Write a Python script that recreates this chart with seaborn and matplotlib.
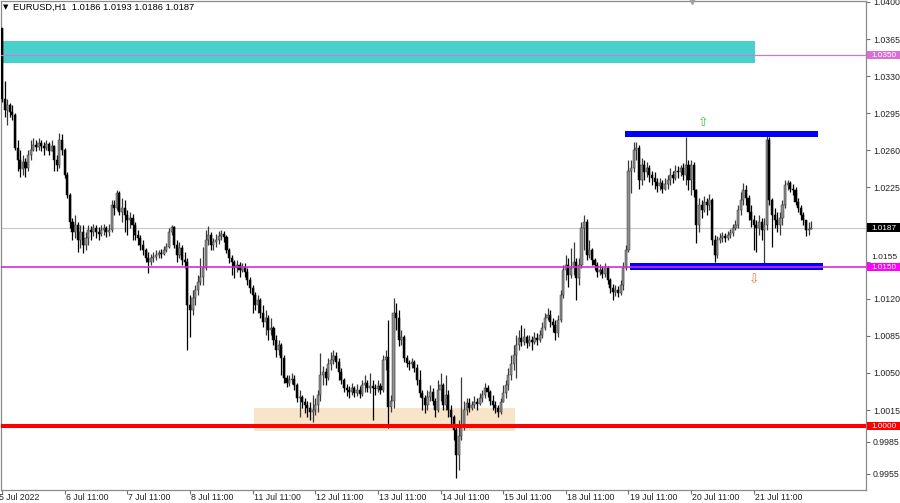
import numpy as np
import matplotlib
matplotlib.use("Agg")
import matplotlib.pyplot as plt
import matplotlib.transforms as mtransforms
from matplotlib.patches import Rectangle
import seaborn as sns

# -------------------------
# Data (EURUSD H1)
# -------------------------
header_text = "EURUSD,H1  1.0186 1.0193 1.0186 1.0187"

first_open = 1.0375

closes = [
    # 5 Jul
    1.0308, 1.0298, 1.0303, 1.0296, 1.0293, 1.0262, 1.0251, 1.0242, 1.0249, 1.0243, 1.0256, 1.0260,
    1.0265, 1.0263, 1.0267, 1.0264, 1.0262, 1.0266, 1.0259, 1.0264, 1.0251, 1.0246, 1.0270, 1.0260,
    # 6 Jul
    1.0237, 1.0218, 1.0192, 1.0183, 1.0190, 1.0175, 1.0183, 1.0171, 1.0177, 1.0185, 1.0183, 1.0187,
    1.0183, 1.0181, 1.0185, 1.0187, 1.0183, 1.0185, 1.0208, 1.0206, 1.0220, 1.0202, 1.0206, 1.0199,
    # 7 Jul
    1.0194, 1.0196, 1.0190, 1.0180, 1.0177, 1.0171, 1.0166, 1.0158, 1.0155, 1.0158, 1.0159, 1.0161,
    1.0163, 1.0162, 1.0166, 1.0169, 1.0183, 1.0188, 1.0171, 1.0161, 1.0168, 1.0157, 1.0155, 1.0114,
    # 8 Jul
    1.0109, 1.0121, 1.0128, 1.0136, 1.0141, 1.0149, 1.0175, 1.0180, 1.0171, 1.0174, 1.0175, 1.0179,
    1.0181, 1.0178, 1.0166, 1.0158, 1.0155, 1.0149, 1.0152, 1.0147, 1.0150, 1.0145, 1.0138, 1.0130,
    # 11 Jul
    1.0124, 1.0114, 1.0119, 1.0107, 1.0098, 1.0102, 1.0091, 1.0092, 1.0081, 1.0072, 1.0076, 1.0064,
    1.0045, 1.0041, 1.0043, 1.0044, 1.0039, 1.0026, 1.0027, 1.0023, 1.0020, 1.0017, 1.0013, 1.0015,
    # 12 Jul
    1.0020, 1.0029, 1.0048, 1.0051, 1.0045, 1.0058, 1.0062, 1.0066, 1.0060, 1.0051, 1.0043, 1.0036,
    1.0034, 1.0032, 1.0036, 1.0031, 1.0034, 1.0030, 1.0039, 1.0041, 1.0036, 1.0038, 1.0036, 1.0035,
    # 13 Jul
    1.0038, 1.0034, 1.0062, 1.0065, 1.0018, 1.0024, 1.0107, 1.0102, 1.0081, 1.0084, 1.0064, 1.0059,
    1.0058, 1.0060, 1.0055, 1.0043, 1.0031, 1.0026, 1.0020, 1.0027, 1.0032, 1.0024, 1.0015, 1.0034,
    # 14 Jul
    1.0039, 1.0020, 1.0029, 1.0015, 1.0008, 0.9996, 0.9973, 0.9991, 1.0001, 1.0015, 1.0022, 1.0017,
    1.0020, 1.0023, 1.0021, 1.0026, 1.0029, 1.0036, 1.0032, 1.0024, 1.0020, 1.0017, 1.0013, 1.0023,
    # 15 Jul
    1.0031, 1.0039, 1.0048, 1.0058, 1.0067, 1.0076, 1.0083, 1.0079, 1.0084, 1.0078, 1.0081, 1.0079,
    1.0083, 1.0081, 1.0086, 1.0092, 1.0102, 1.0105, 1.0098, 1.0095, 1.0088, 1.0100, 1.0124, 1.0147,
    # 18 Jul
    1.0152, 1.0142, 1.0149, 1.0155, 1.0140, 1.0152, 1.0187, 1.0192, 1.0161, 1.0166, 1.0157, 1.0152,
    1.0145, 1.0147, 1.0143, 1.0149, 1.0138, 1.0130, 1.0126, 1.0128, 1.0125, 1.0133, 1.0149, 1.0166,
    # 19 Jul
    1.0241, 1.0243, 1.0260, 1.0262, 1.0232, 1.0246, 1.0240, 1.0243, 1.0237, 1.0234, 1.0230, 1.0226,
    1.0229, 1.0224, 1.0228, 1.0232, 1.0237, 1.0234, 1.0241, 1.0240, 1.0243, 1.0237, 1.0246, 1.0232,
    # 20 Jul
    1.0246, 1.0223, 1.0190, 1.0208, 1.0204, 1.0211, 1.0208, 1.0213, 1.0175, 1.0161, 1.0175, 1.0177,
    1.0179, 1.0177, 1.0180, 1.0182, 1.0187, 1.0190, 1.0204, 1.0213, 1.0223, 1.0215, 1.0202, 1.0194,
    # 21-22 Jul
    1.0190, 1.0187, 1.0192, 1.0185, 1.0190, 1.0270, 1.0213, 1.0199, 1.0194, 1.0190, 1.0196, 1.0208,
    1.0227, 1.0229, 1.0224, 1.0223, 1.0211, 1.0206, 1.0199, 1.0194, 1.0185, 1.0186, 1.0187,
]

highs = [
    1.0375, 1.0325, 1.0308, 1.0305, 1.0303, 1.0295, 1.0270, 1.0260, 1.0256, 1.0253, 1.0260, 1.0270,
    1.0272, 1.0270, 1.0272, 1.0270, 1.0268, 1.0270, 1.0268, 1.0270, 1.0265, 1.0256, 1.0276, 1.0275,
    1.0262, 1.0240, 1.0220, 1.0196, 1.0199, 1.0192, 1.0190, 1.0190, 1.0183, 1.0190, 1.0189, 1.0191,
    1.0190, 1.0188, 1.0190, 1.0191, 1.0189, 1.0191, 1.0213, 1.0213, 1.0223, 1.0222, 1.0215, 1.0213,
    1.0204, 1.0202, 1.0200, 1.0192, 1.0185, 1.0180, 1.0175, 1.0168, 1.0164, 1.0162, 1.0164, 1.0166,
    1.0166, 1.0167, 1.0170, 1.0173, 1.0187, 1.0190, 1.0189, 1.0175, 1.0174, 1.0171, 1.0164, 1.0158,
    1.0124, 1.0128, 1.0133, 1.0142, 1.0158, 1.0169, 1.0185, 1.0189, 1.0183, 1.0177, 1.0181, 1.0184,
    1.0185, 1.0184, 1.0180, 1.0168, 1.0161, 1.0157, 1.0157, 1.0155, 1.0154, 1.0154, 1.0149, 1.0141,
    1.0133, 1.0126, 1.0124, 1.0121, 1.0114, 1.0109, 1.0105, 1.0102, 1.0094, 1.0086, 1.0081, 1.0078,
    1.0067, 1.0048, 1.0048, 1.0050, 1.0048, 1.0041, 1.0034, 1.0029, 1.0026, 1.0024, 1.0023, 1.0029,
    1.0026, 1.0034, 1.0069, 1.0057, 1.0055, 1.0064, 1.0070, 1.0072, 1.0070, 1.0064, 1.0055, 1.0045,
    1.0040, 1.0038, 1.0041, 1.0038, 1.0040, 1.0038, 1.0043, 1.0048, 1.0043, 1.0050, 1.0043, 1.0040,
    1.0043, 1.0041, 1.0067, 1.0072, 1.0100, 1.0029, 1.0121, 1.0116, 1.0109, 1.0091, 1.0086, 1.0067,
    1.0062, 1.0064, 1.0062, 1.0058, 1.0053, 1.0034, 1.0029, 1.0034, 1.0039, 1.0036, 1.0026, 1.0043,
    1.0050, 1.0041, 1.0048, 1.0034, 1.0020, 1.0010, 1.0001, 1.0006, 1.0046, 1.0024, 1.0026, 1.0026,
    1.0024, 1.0028, 1.0026, 1.0031, 1.0034, 1.0041, 1.0039, 1.0034, 1.0029, 1.0024, 1.0020, 1.0026,
    1.0039, 1.0043, 1.0055, 1.0067, 1.0076, 1.0086, 1.0091, 1.0095, 1.0092, 1.0086, 1.0086, 1.0085,
    1.0089, 1.0088, 1.0091, 1.0098, 1.0107, 1.0111, 1.0109, 1.0102, 1.0100, 1.0105, 1.0128, 1.0152,
    1.0161, 1.0158, 1.0168, 1.0174, 1.0158, 1.0158, 1.0192, 1.0199, 1.0195, 1.0175, 1.0168, 1.0158,
    1.0155, 1.0153, 1.0151, 1.0154, 1.0151, 1.0140, 1.0134, 1.0133, 1.0132, 1.0138, 1.0155, 1.0171,
    1.0251, 1.0251, 1.0268, 1.0268, 1.0265, 1.0253, 1.0251, 1.0249, 1.0246, 1.0241, 1.0240, 1.0234,
    1.0234, 1.0232, 1.0234, 1.0237, 1.0243, 1.0241, 1.0246, 1.0245, 1.0246, 1.0248, 1.0273, 1.0251,
    1.0251, 1.0249, 1.0224, 1.0215, 1.0213, 1.0217, 1.0215, 1.0219, 1.0215, 1.0180, 1.0179, 1.0182,
    1.0183, 1.0182, 1.0184, 1.0186, 1.0191, 1.0194, 1.0208, 1.0221, 1.0229, 1.0227, 1.0218, 1.0208,
    1.0199, 1.0194, 1.0199, 1.0196, 1.0196, 1.0277, 1.0273, 1.0215, 1.0206, 1.0202, 1.0202, 1.0213,
    1.0232, 1.0232, 1.0231, 1.0228, 1.0225, 1.0215, 1.0208, 1.0202, 1.0194, 1.0192, 1.0193,
]

lows = [
    1.0306, 1.0291, 1.0284, 1.0291, 1.0289, 1.0260, 1.0241, 1.0235, 1.0237, 1.0235, 1.0241, 1.0251,
    1.0259, 1.0259, 1.0260, 1.0259, 1.0256, 1.0260, 1.0256, 1.0259, 1.0241, 1.0241, 1.0243, 1.0256,
    1.0234, 1.0215, 1.0187, 1.0175, 1.0177, 1.0164, 1.0168, 1.0163, 1.0166, 1.0171, 1.0175, 1.0179,
    1.0177, 1.0175, 1.0179, 1.0180, 1.0178, 1.0179, 1.0183, 1.0199, 1.0204, 1.0199, 1.0192, 1.0183,
    1.0180, 1.0187, 1.0175, 1.0175, 1.0171, 1.0166, 1.0161, 1.0155, 1.0144, 1.0152, 1.0155, 1.0157,
    1.0158, 1.0158, 1.0161, 1.0164, 1.0168, 1.0180, 1.0168, 1.0155, 1.0158, 1.0152, 1.0149, 1.0072,
    1.0084, 1.0105, 1.0114, 1.0124, 1.0133, 1.0133, 1.0147, 1.0171, 1.0166, 1.0166, 1.0169, 1.0172,
    1.0175, 1.0174, 1.0163, 1.0154, 1.0142, 1.0140, 1.0145, 1.0141, 1.0145, 1.0141, 1.0133, 1.0125,
    1.0107, 1.0109, 1.0107, 1.0102, 1.0093, 1.0086, 1.0081, 1.0086, 1.0076, 1.0065, 1.0067, 1.0048,
    1.0041, 1.0037, 1.0038, 1.0040, 1.0034, 1.0023, 1.0008, 1.0017, 1.0012, 1.0008, 1.0006, 1.0004,
    1.0010, 1.0013, 1.0024, 1.0039, 1.0039, 1.0043, 1.0053, 1.0058, 1.0055, 1.0043, 1.0040, 1.0032,
    1.0028, 1.0026, 1.0029, 1.0027, 1.0028, 1.0026, 1.0028, 1.0032, 1.0032, 1.0031, 1.0006, 1.0029,
    1.0032, 1.0030, 1.0032, 1.0053, 0.9998, 1.0013, 1.0017, 1.0091, 1.0075, 1.0076, 1.0060, 1.0056,
    1.0053, 1.0055, 1.0051, 1.0039, 1.0027, 1.0015, 1.0012, 1.0015, 1.0024, 1.0020, 1.0008, 1.0013,
    1.0024, 1.0015, 1.0015, 1.0008, 1.0001, 0.9987, 0.9951, 0.9958, 0.9987, 0.9996, 1.0010, 1.0013,
    1.0015, 1.0017, 1.0015, 1.0020, 1.0023, 1.0026, 1.0027, 1.0020, 1.0015, 1.0012, 1.0008, 1.0011,
    1.0023, 1.0026, 1.0034, 1.0043, 1.0053, 1.0045, 1.0072, 1.0075, 1.0076, 1.0074, 1.0075, 1.0072,
    1.0077, 1.0076, 1.0079, 1.0083, 1.0091, 1.0100, 1.0093, 1.0089, 1.0081, 1.0084, 1.0098, 1.0121,
    1.0138, 1.0131, 1.0140, 1.0142, 1.0119, 1.0133, 1.0149, 1.0166, 1.0157, 1.0158, 1.0152, 1.0147,
    1.0141, 1.0142, 1.0140, 1.0141, 1.0134, 1.0125, 1.0119, 1.0123, 1.0122, 1.0124, 1.0128, 1.0147,
    1.0164, 1.0220, 1.0240, 1.0251, 1.0224, 1.0227, 1.0232, 1.0235, 1.0230, 1.0227, 1.0224, 1.0221,
    1.0223, 1.0220, 1.0223, 1.0224, 1.0227, 1.0229, 1.0232, 1.0234, 1.0236, 1.0232, 1.0227, 1.0223,
    1.0218, 1.0216, 1.0173, 1.0183, 1.0196, 1.0202, 1.0199, 1.0204, 1.0171, 1.0155, 1.0158, 1.0173,
    1.0174, 1.0174, 1.0175, 1.0177, 1.0179, 1.0185, 1.0187, 1.0199, 1.0208, 1.0208, 1.0194, 1.0188,
    1.0166, 1.0164, 1.0180, 1.0175, 1.0152, 1.0185, 1.0208, 1.0169, 1.0187, 1.0183, 1.0180, 1.0190,
    1.0206, 1.0223, 1.0221, 1.0218, 1.0208, 1.0202, 1.0194, 1.0190, 1.0179, 1.0180, 1.0186,
]

date_labels = ["5 Jul 2022", "6 Jul 11:00", "7 Jul 11:00", "8 Jul 11:00", "11 Jul 11:00",
               "12 Jul 11:00", "13 Jul 11:00", "14 Jul 11:00", "15 Jul 11:00", "18 Jul 11:00",
               "19 Jul 11:00", "20 Jul 11:00", "21 Jul 11:00"]
date_bars = [0, 24, 48, 72, 96, 120, 144, 168, 192, 216, 240, 264, 288]

price_ticks = [1.0400, 1.0365, 1.0330, 1.0295, 1.0260, 1.0225, 1.0190, 1.0155,
               1.0120, 1.0085, 1.0050, 1.0015, 0.9985, 0.9955]
# 1.0190 sits under the bid label on the scale, so its text is not shown
hidden_ticks = [1.0190]
# 1.0155 is squeezed against the 1.0150 label, its text is lifted a little
lifted_ticks = [1.0155]

level_upper = 1.0350
level_range = 1.0150
level_parity = 1.0000
last_price = 1.0187

# zones: first bar, last bar, low price, high price
zone_supply = (-0.4, 288.5, 1.03425, 1.03632)
zone_base = (96.6, 196.6, 0.99953, 1.00170)
range_top = (238.7, 312.6, 1.02722, 1.02778)
range_bottom = (240.6, 314.6, 1.01472, 1.01538)

arrow_up = (268.6, 1.0286)
arrow_down = (288.1, 1.0138)

# -------------------------
# Style
# -------------------------
sns.set_theme(style="white")
plt.rcParams["font.family"] = ["Liberation Sans", "DejaVu Sans"]

fig = plt.figure(figsize=(9, 5.03), dpi=100)
fig.patch.set_facecolor("white")
ax = fig.add_axes([1 / 900, 13 / 503, 865 / 900, 489 / 503])
ax.set_facecolor("white")

ax.set_xlim(-0.38, 331.0)
ax.set_ylim(0.99396, 1.04009)

# zones (behind candles)
for x0, x1, p0, p1, col in [(*zone_supply, "#48d1cc"), (*zone_base, "#f8e4c8")]:
    ax.add_patch(Rectangle((x0, p0), x1 - x0, p1 - p0, facecolor=col, edgecolor="none", zorder=1))

# current price line
ax.axhline(last_price, color="#c8c8c8", lw=0.8, zorder=1.5)

# candles
c = np.array(closes)
o = np.concatenate([[first_open], c[:-1]])
h = np.maximum(np.array(highs), np.maximum(o, c))
l = np.minimum(np.array(lows), np.minimum(o, c))
idx = np.arange(len(c))
up = c >= o

ax.vlines(idx[up], l[up], h[up], color="#3a3a3a", lw=0.9, zorder=3)
ax.vlines(idx[~up], l[~up], h[~up], color="#000000", lw=0.9, zorder=3)
body_bottom = np.minimum(o, c)
body_height = np.maximum(np.abs(c - o), 0.00008)
ax.bar(idx[up], body_height[up], bottom=body_bottom[up], width=0.8,
       color="#8e8e8e", edgecolor="#333333", linewidth=0.35, zorder=4)
ax.bar(idx[~up], body_height[~up], bottom=body_bottom[~up], width=0.8,
       color="#000000", edgecolor="#000000", linewidth=0.35, zorder=4)

# range rectangles
for x0, x1, p0, p1 in [range_top, range_bottom]:
    ax.add_patch(Rectangle((x0, p0), x1 - x0, p1 - p0, facecolor="#0000ff", edgecolor="none", zorder=3.5))

# horizontal levels
ax.axhline(level_upper, color="#c47ad8", lw=0.9, zorder=5)
ax.axhline(level_range, color="#d42cd4", lw=1.4, alpha=0.85, zorder=5)
ax.axhline(level_parity, color="#ff0000", lw=2.9, zorder=5)

# arrows
ax.text(*arrow_up, "\u21e7", color="#3cc43c", fontsize=9, ha="center", va="center",
        family=["DejaVu Sans"], zorder=6)
ax.text(*arrow_down, "\u21e9", color="#f07840", fontsize=9, ha="center", va="center",
        family=["DejaVu Sans"], zorder=6)

# axes frame
for s in ax.spines.values():
    s.set_color("#8a8a8a")
    s.set_linewidth(0.9)

# price scale on the right
yblend = mtransforms.blended_transform_factory(ax.transAxes, ax.transData)
ax.yaxis.tick_right()
ax.set_yticks(price_ticks)
ax.set_yticklabels(["" if (p in hidden_ticks or p in lifted_ticks) else f"{p:.4f}"
                    for p in price_ticks])
ax.tick_params(axis="y", which="both", direction="out", length=3, width=0.8,
               color="#707070", pad=2, labelsize=6.3, labelcolor="#222222", right=True, left=False)
for p in lifted_ticks:
    ax.text(1.0058, p + 0.00036, f"{p:.4f}", transform=yblend, ha="left", va="center",
            fontsize=6.1, color="#222222", clip_on=False)

# time scale
ax.set_xticks(date_bars)
ax.set_xticklabels([""] * len(date_bars))
ax.tick_params(axis="x", which="both", direction="out", length=3, width=0.8,
               color="#707070", bottom=True, top=False)
xblend = mtransforms.blended_transform_factory(ax.transData, ax.transAxes)
for b, lab in zip(date_bars, date_labels):
    xpos = b + 0.4 if b > 0 else -1.2
    ax.text(xpos, -0.0145, lab, transform=xblend, ha="left", va="center",
            fontsize=6.3, color="#222222", clip_on=False)

# coloured price labels on the scale
box_h = 0.00084
for p, fc in [(level_upper, "#da70d6"), (last_price, "#000000"),
              (level_range, "#ff00ff"), (level_parity, "#ff0000")]:
    ax.add_patch(Rectangle((1.0012, p - box_h / 2), 0.0385, box_h, transform=yblend,
                           facecolor=fc, edgecolor="none", clip_on=False, zorder=7))
    ax.text(1.0058, p - 0.00006, f"{p:.4f}", transform=yblend, ha="left", va="center",
            fontsize=5.9, color="white", clip_on=False, zorder=8)

# chart shift marker
ax.plot([264.4], [1.0], marker="v", markersize=5, color="#a0a0a0",
        transform=xblend, clip_on=False, zorder=8)

# header
fig.text(3 / 900, 1 - 7.5 / 503, "\u25bc", fontsize=5, color="black", va="center", ha="left",
         family=["DejaVu Sans"])
fig.text(13 / 900, 1 - 7.5 / 503, header_text, fontsize=6.7, color="black", va="center", ha="left")

fig.savefig("out.png", dpi=100)
